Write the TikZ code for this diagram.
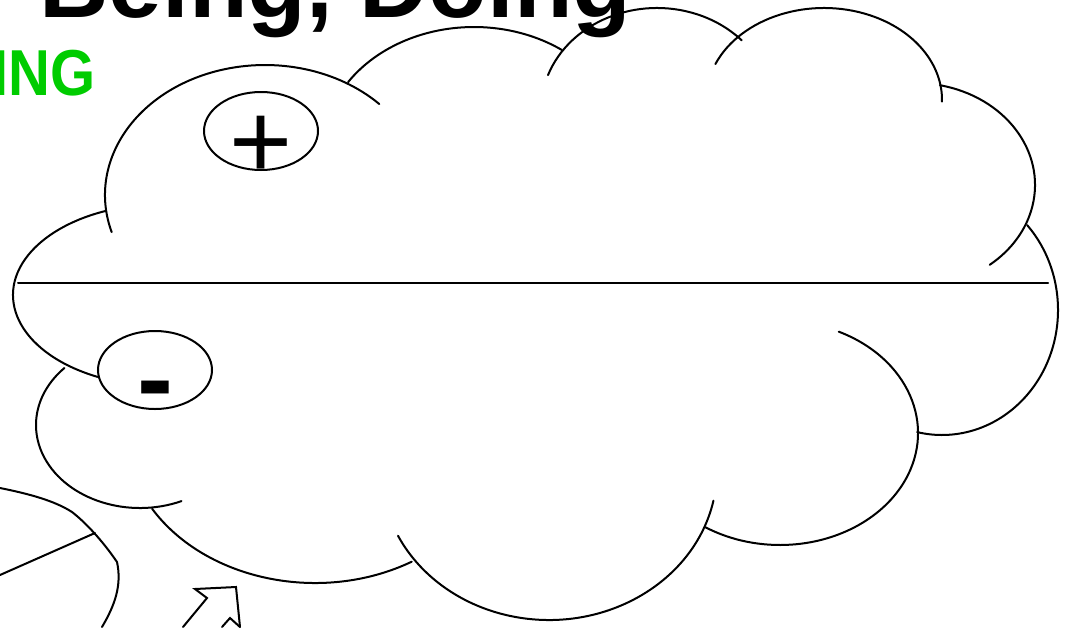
\documentclass[tikz,border=0pt]{standalone}
\usepackage{fontspec}
\setmainfont{Liberation Sans}
\usetikzlibrary{shapes.geometric}
\definecolor{headgreen}{RGB}{0,204,0}

% one lobe of the cloud: centre x, centre y, x radius, y radius, start angle, end angle
\newcommand{\cloudlobe}[6]{\draw[lobe] (#1,#2) ++(#5:#3 and #4) arc[start angle=#5, end angle=#6, x radius=#3, y radius=#4];}

\begin{document}
\begin{tikzpicture}[
    x=0.5pt, y=-0.5pt,
    lobe/.style={line width=1pt, line cap=round},
    sign/.style={ellipse, draw, line width=1pt, minimum width=57pt, minimum height=39pt, inner sep=0pt},
    signtext/.style={inner sep=0pt, font=\fontsize{54}{54}\selectfont},
    heading/.style={inner sep=0pt, font=\bfseries\fontsize{48}{48}\selectfont},
]
\useasboundingbox (0,0) rectangle (1069,627);

% ================== Headings ==================
\node[heading, anchor=base east] (title) at (632,17) {Being, Doing};
\node[heading, anchor=base east, text=headgreen, font=\bfseries\fontsize{29}{29}\selectfont, yscale=1.12, transform shape] (subtitle) at (96,95) {ING};

% ================== Cloud ==================
\cloudlobe{265}{195}{160}{130}{163.4}{315.6}
\cloudlobe{474}{150}{151}{123}{213.5}{305.6}
\cloudlobe{657}{110}{116}{102}{200}{316.9}
\cloudlobe{824}{100}{118}{92}{203}{361}
\cloudlobe{915}{185}{120}{102}{282}{411.5}
\cloudlobe{942}{310}{116}{125}{317.2}{462.4}
\cloudlobe{780}{433}{138}{112}{295.2}{482.6}
\cloudlobe{549}{470}{168}{150}{11.8}{154}
\cloudlobe{315}{430}{190}{153}{149}{59.4}
\cloudlobe{140}{425}{104}{83}{66.5}{223.4}
\cloudlobe{163}{295}{150}{91}{115.8}{247.7}

\draw[lobe] (18,283) -- (1048,283);

% ================== Signs ==================
\node[sign] (plusbox) at (261,131) {};
\node[signtext] (plussign) at (261,147) {+};
\node[sign] (minusbox) at (155,370) {};
\node[signtext, font=\bfseries\fontsize{54}{54}\selectfont] (minussign) at (155,398) {-};

% ================== Bottom left ==================
\draw[lobe] (0,488) .. controls (30,494) and (55,501) .. (72,512) .. controls (85,522) and (102,540) .. (117,562) .. controls (122,585) and (115,605) .. (102,627);
\draw[lobe] (0,575) -- (95,533);
\draw[lobe, line join=miter] (183,627) -- (207,598) -- (195,589) -- (236,587) -- (240,627);
\draw[lobe] (222,627) -- (230,618) -- (240,627);

\end{tikzpicture}
\end{document}
